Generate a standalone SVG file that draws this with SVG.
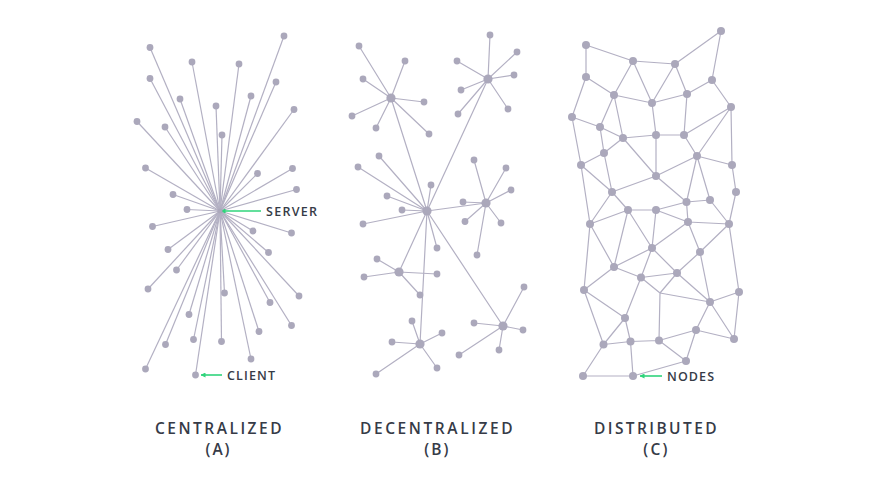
<svg xmlns="http://www.w3.org/2000/svg" width="880" height="486" viewBox="0 0 880 486">
<defs>
<style>
.e{stroke:#b3b0c3;stroke-width:1.2;fill:none}
.n{fill:#aba8bb}
.h{fill:#aba8bb}
.ptr{stroke:#2fd47b;stroke-width:1.6;fill:none}
.lbl{font-family:"Open Sans","Noto Sans","Liberation Sans",sans-serif;font-size:12.5px;font-weight:600;fill:#363b47}
.ttl{font-family:"Open Sans","Noto Sans","Liberation Sans",sans-serif;font-size:15.5px;font-weight:600;fill:#363b47;text-anchor:middle}
</style>
<marker id="ah" viewBox="0 0 10 10" refX="9" refY="5" markerWidth="5" markerHeight="5" orient="auto" markerUnits="userSpaceOnUse">
<path d="M0,0 L10,5 L0,10 Z" fill="#2fd47b"/>
</marker>
</defs>
<rect width="880" height="486" fill="#ffffff"/>

<g id="connectors">
<g id="edges-a">
<line class="e" x1="220" y1="211" x2="284" y2="36"/>
<line class="e" x1="220" y1="211" x2="150" y2="47.5"/>
<line class="e" x1="220" y1="211" x2="192" y2="62"/>
<line class="e" x1="220" y1="211" x2="239" y2="64"/>
<line class="e" x1="220" y1="211" x2="150" y2="78.5"/>
<line class="e" x1="220" y1="211" x2="276" y2="82"/>
<line class="e" x1="220" y1="211" x2="251" y2="96"/>
<line class="e" x1="220" y1="211" x2="180" y2="99"/>
<line class="e" x1="220" y1="211" x2="216" y2="106"/>
<line class="e" x1="220" y1="211" x2="294" y2="109.5"/>
<line class="e" x1="220" y1="211" x2="137" y2="121.5"/>
<line class="e" x1="220" y1="211" x2="165" y2="127"/>
<line class="e" x1="220" y1="211" x2="222" y2="135"/>
<line class="e" x1="220" y1="211" x2="145.5" y2="168"/>
<line class="e" x1="220" y1="211" x2="257.5" y2="173.5"/>
<line class="e" x1="220" y1="211" x2="292.5" y2="168.5"/>
<line class="e" x1="220" y1="211" x2="173" y2="194.5"/>
<line class="e" x1="220" y1="211" x2="296.5" y2="189.5"/>
<line class="e" x1="220" y1="211" x2="187" y2="209.5"/>
<line class="e" x1="220" y1="211" x2="152.5" y2="226.5"/>
<line class="e" x1="220" y1="211" x2="253" y2="231"/>
<line class="e" x1="220" y1="211" x2="291.5" y2="233"/>
<line class="e" x1="220" y1="211" x2="168" y2="249.5"/>
<line class="e" x1="220" y1="211" x2="268.5" y2="252.5"/>
<line class="e" x1="220" y1="211" x2="176.5" y2="270"/>
<line class="e" x1="220" y1="211" x2="148" y2="289"/>
<line class="e" x1="220" y1="211" x2="224.5" y2="293"/>
<line class="e" x1="220" y1="211" x2="299" y2="296"/>
<line class="e" x1="220" y1="211" x2="270" y2="302.5"/>
<line class="e" x1="220" y1="211" x2="189" y2="314.5"/>
<line class="e" x1="220" y1="211" x2="291.5" y2="325.5"/>
<line class="e" x1="220" y1="211" x2="259" y2="331.5"/>
<line class="e" x1="220" y1="211" x2="193.5" y2="339.5"/>
<line class="e" x1="220" y1="211" x2="221.5" y2="341.5"/>
<line class="e" x1="220" y1="211" x2="165.5" y2="344.5"/>
<line class="e" x1="220" y1="211" x2="251" y2="359"/>
<line class="e" x1="220" y1="211" x2="145.5" y2="369"/>
<line class="e" x1="220" y1="211" x2="195.5" y2="375"/>
</g>
<g id="edges-b">
<path class="e" d="M427,211 L391,98 M427,211 L488,79 M427,211 L486,203 M427,211 L399,272 M427,211 L420,344 M427,211 L503,326"/>
<path class="e" d="M427,211 L379,156 M427,211 L358,167 M427,211 L431,185 M427,211 L387,196 M427,211 L402,210 M427,211 L363,224 M427,211 L437,248"/>
<path class="e" d="M391,98 L359,46 M391,98 L405,61 M391,98 L363,79 M391,98 L424,102 M391,98 L352,116 M391,98 L376,128 M391,98 L429,134"/>
<path class="e" d="M488,79 L490,35 M488,79 L517,52 M488,79 L457,61 M488,79 L514,75 M488,79 L461,90 M488,79 L508,109 M488,79 L458,114"/>
<path class="e" d="M486,203 L474,160 M486,203 L506,168 M486,203 L511,190 M486,203 L463,202 M486,203 L465,221.5 M486,203 L501,223 M486,203 L477,255"/>
<path class="e" d="M399,272 L377,259 M399,272 L364,277 M399,272 L437,274 M399,272 L420,295"/>
<path class="e" d="M420,344 L412,321 M420,344 L442,333 M420,344 L392,342 M420,344 L437,368 M420,344 L376,374"/>
<path class="e" d="M503,326 L524,287 M503,326 L474,323 M503,326 L523,330 M503,326 L499,350 M503,326 L459,355"/>
</g>
<g id="edges-c">
<path class="e" d="M586,45 L586,77 M586,45 L633,61 M633,61 L675,64 M675,64 L721,31 M721,31 L712,80 M633,61 L614,95 M633,61 L652,103 M675,64 L652,103 M675,64 L687,94 M712,80 L687,94 M712,80 L731,107 M586,77 L614,95 M586,77 L572,117 M614,95 L652,103 M652,103 L687,94 M614,95 L600,127 M614,95 L623,138 M652,103 L656,135 M687,94 L684,135 M731,107 L684,135 M731,107 L697,156 M731,107 L732,165"/>
<path class="e" d="M572,117 L600,127 M572,117 L581,165 M600,127 L623,138 M600,127 L604,153 M623,138 L656,135 M656,135 L684,135 M623,138 L604,153 M623,138 L656,176 M656,135 L656,176 M684,135 L697,156 M697,156 L732,165 M697,156 L656,176 M604,153 L581,165 M604,153 L612,192 M581,165 L612,192 M581,165 L590,224 M656,176 L612,192 M656,176 L686.5,202 M697,156 L686.5,202 M697,156 L710,200 M732,165 L736,192 M686.5,202 L710,200"/>
<path class="e" d="M612,192 L628,210 M612,192 L590,224 M628,210 L656,210 M656,210 L686.5,202 M736,192 L729,224 M710,200 L729,224 M686.5,202 L688,222 M688,222 L729,224 M656,210 L688,222 M628,210 L590,224 M628,210 L614,267 M628,210 L652,248 M656,210 L652,248 M688,222 L652,248 M688,222 L700,252 M729,224 L700,252 M729,224 L739,292"/>
<path class="e" d="M590,224 L614,267 M590,224 L584,290 M652,248 L614,267 M652,248 L641,277.5 M652,248 L677,273 M700,252 L677,273 M700,252 L710,302 M614,267 L641,277.5 M614,267 L584,290 M641,277.5 L677,273 M641,277.5 L660,293 M677,273 L660,293 M660,293 L710,302 M660,293 L659,340.5 M677,273 L710,302"/>
<path class="e" d="M584,290 L625,318 M584,290 L603.5,344.5 M641,277.5 L625,318 M710,302 L739,292 M710,302 L696,330 M710,302 L734,339 M739,292 L734,339 M696,330 L734,339 M696,330 L659,340.5 M696,330 L686,361 M659,340.5 L686,361 M630.5,341.5 L659,340.5 M603.5,344.5 L630.5,341.5 M625,318 L630.5,341.5 M603.5,344.5 L625,318 M603.5,344.5 L583,376 M583,376 L633,376 M630.5,341.5 L633,376 M633,376 L686,361"/>
</g>
<g id="pointers">
<line class="ptr" x1="261" y1="211" x2="221" y2="211" marker-end="url(#ah)"/>
<line class="ptr" x1="222" y1="375" x2="201" y2="375" marker-end="url(#ah)"/>
<line class="ptr" x1="662" y1="376" x2="640" y2="376" marker-end="url(#ah)"/>
</g>
</g>

<g id="server"><circle class="h" cx="220" cy="211" r="2.5"/></g>
<g id="panel-a-clients">
<g id="a1"><circle class="n" cx="284" cy="36" r="3.4"/></g>
<g id="a2"><circle class="n" cx="150" cy="47.5" r="3.4"/></g>
<g id="a3"><circle class="n" cx="192" cy="62" r="3.4"/></g>
<g id="a4"><circle class="n" cx="239" cy="64" r="3.4"/></g>
<g id="a5"><circle class="n" cx="150" cy="78.5" r="3.4"/></g>
<g id="a6"><circle class="n" cx="276" cy="82" r="3.4"/></g>
<g id="a7"><circle class="n" cx="251" cy="96" r="3.4"/></g>
<g id="a8"><circle class="n" cx="180" cy="99" r="3.4"/></g>
<g id="a9"><circle class="n" cx="216" cy="106" r="3.4"/></g>
<g id="a10"><circle class="n" cx="294" cy="109.5" r="3.4"/></g>
<g id="a11"><circle class="n" cx="137" cy="121.5" r="3.4"/></g>
<g id="a12"><circle class="n" cx="165" cy="127" r="3.4"/></g>
<g id="a13"><circle class="n" cx="222" cy="135" r="3.4"/></g>
<g id="a14"><circle class="n" cx="145.5" cy="168" r="3.4"/></g>
<g id="a15"><circle class="n" cx="257.5" cy="173.5" r="3.4"/></g>
<g id="a16"><circle class="n" cx="292.5" cy="168.5" r="3.4"/></g>
<g id="a17"><circle class="n" cx="173" cy="194.5" r="3.4"/></g>
<g id="a18"><circle class="n" cx="296.5" cy="189.5" r="3.4"/></g>
<g id="a19"><circle class="n" cx="187" cy="209.5" r="3.4"/></g>
<g id="a20"><circle class="n" cx="152.5" cy="226.5" r="3.4"/></g>
<g id="a21"><circle class="n" cx="253" cy="231" r="3.4"/></g>
<g id="a22"><circle class="n" cx="291.5" cy="233" r="3.4"/></g>
<g id="a23"><circle class="n" cx="168" cy="249.5" r="3.4"/></g>
<g id="a24"><circle class="n" cx="268.5" cy="252.5" r="3.4"/></g>
<g id="a25"><circle class="n" cx="176.5" cy="270" r="3.4"/></g>
<g id="a26"><circle class="n" cx="148" cy="289" r="3.4"/></g>
<g id="a27"><circle class="n" cx="224.5" cy="293" r="3.4"/></g>
<g id="a28"><circle class="n" cx="299" cy="296" r="3.4"/></g>
<g id="a29"><circle class="n" cx="270" cy="302.5" r="3.4"/></g>
<g id="a30"><circle class="n" cx="189" cy="314.5" r="3.4"/></g>
<g id="a31"><circle class="n" cx="291.5" cy="325.5" r="3.4"/></g>
<g id="a32"><circle class="n" cx="259" cy="331.5" r="3.4"/></g>
<g id="a33"><circle class="n" cx="193.5" cy="339.5" r="3.4"/></g>
<g id="a34"><circle class="n" cx="221.5" cy="341.5" r="3.4"/></g>
<g id="a35"><circle class="n" cx="165.5" cy="344.5" r="3.4"/></g>
<g id="a36"><circle class="n" cx="251" cy="359" r="3.4"/></g>
<g id="a37"><circle class="n" cx="145.5" cy="369" r="3.4"/></g>
<g id="client"><circle class="n" cx="195.5" cy="375" r="3.4"/></g>
</g>

<g id="panel-b">
<g id="b-hub0"><circle class="h" cx="427" cy="211" r="4.6"/></g>
<g id="b-hub1"><circle class="h" cx="391" cy="98" r="4.6"/></g>
<g id="b-hub2"><circle class="h" cx="488" cy="79" r="4.6"/></g>
<g id="b-hub3"><circle class="h" cx="486" cy="203" r="4.6"/></g>
<g id="b-hub4"><circle class="h" cx="399" cy="272" r="4.6"/></g>
<g id="b-hub5"><circle class="h" cx="420" cy="344" r="4.6"/></g>
<g id="b-hub6"><circle class="h" cx="503" cy="326" r="4.6"/></g>
<g id="b-leaves0"><circle class="n" cx="379" cy="156" r="3.4"/><circle class="n" cx="358" cy="167" r="3.4"/><circle class="n" cx="431" cy="185" r="3.4"/><circle class="n" cx="387" cy="196" r="3.4"/><circle class="n" cx="402" cy="210" r="3.4"/><circle class="n" cx="363" cy="224" r="3.4"/><circle class="n" cx="437" cy="248" r="3.4"/></g>
<g id="b-leaves1"><circle class="n" cx="359" cy="46" r="3.4"/><circle class="n" cx="405" cy="61" r="3.4"/><circle class="n" cx="363" cy="79" r="3.4"/><circle class="n" cx="424" cy="102" r="3.4"/><circle class="n" cx="352" cy="116" r="3.4"/><circle class="n" cx="376" cy="128" r="3.4"/><circle class="n" cx="429" cy="134" r="3.4"/></g>
<g id="b-leaves2"><circle class="n" cx="490" cy="35" r="3.4"/><circle class="n" cx="517" cy="52" r="3.4"/><circle class="n" cx="457" cy="61" r="3.4"/><circle class="n" cx="514" cy="75" r="3.4"/><circle class="n" cx="461" cy="90" r="3.4"/><circle class="n" cx="508" cy="109" r="3.4"/><circle class="n" cx="458" cy="114" r="3.4"/></g>
<g id="b-leaves3"><circle class="n" cx="474" cy="160" r="3.4"/><circle class="n" cx="506" cy="168" r="3.4"/><circle class="n" cx="511" cy="190" r="3.4"/><circle class="n" cx="463" cy="202" r="3.4"/><circle class="n" cx="465" cy="221.5" r="3.4"/><circle class="n" cx="501" cy="223" r="3.4"/><circle class="n" cx="477" cy="255" r="3.4"/></g>
<g id="b-leaves4"><circle class="n" cx="377" cy="259" r="3.4"/><circle class="n" cx="364" cy="277" r="3.4"/><circle class="n" cx="437" cy="274" r="3.4"/><circle class="n" cx="420" cy="295" r="3.4"/></g>
<g id="b-leaves5"><circle class="n" cx="412" cy="321" r="3.4"/><circle class="n" cx="442" cy="333" r="3.4"/><circle class="n" cx="392" cy="342" r="3.4"/><circle class="n" cx="437" cy="368" r="3.4"/><circle class="n" cx="376" cy="374" r="3.4"/></g>
<g id="b-leaves6"><circle class="n" cx="524" cy="287" r="3.4"/><circle class="n" cx="474" cy="323" r="3.4"/><circle class="n" cx="523" cy="330" r="3.4"/><circle class="n" cx="499" cy="350" r="3.4"/><circle class="n" cx="459" cy="355" r="3.4"/></g>
</g>

<g id="panel-c">
<g id="c1"><circle class="n" cx="721" cy="31" r="4"/></g>
<g id="c2"><circle class="n" cx="586" cy="45" r="4"/></g>
<g id="c3"><circle class="n" cx="633" cy="61" r="4"/></g>
<g id="c4"><circle class="n" cx="675" cy="64" r="4"/></g>
<g id="c5"><circle class="n" cx="586" cy="77" r="4"/></g>
<g id="c6"><circle class="n" cx="712" cy="80" r="4"/></g>
<g id="c7"><circle class="n" cx="614" cy="95" r="4"/></g>
<g id="c8"><circle class="n" cx="687" cy="94" r="4"/></g>
<g id="c9"><circle class="n" cx="652" cy="103" r="4"/></g>
<g id="c10"><circle class="n" cx="731" cy="107" r="4"/></g>
<g id="c11"><circle class="n" cx="572" cy="117" r="4"/></g>
<g id="c12"><circle class="n" cx="600" cy="127" r="4"/></g>
<g id="c13"><circle class="n" cx="623" cy="138" r="4"/></g>
<g id="c14"><circle class="n" cx="656" cy="135" r="4"/></g>
<g id="c15"><circle class="n" cx="684" cy="135" r="4"/></g>
<g id="c16"><circle class="n" cx="604" cy="153" r="4"/></g>
<g id="c17"><circle class="n" cx="697" cy="156" r="4"/></g>
<g id="c18"><circle class="n" cx="581" cy="165" r="4"/></g>
<g id="c19"><circle class="n" cx="732" cy="165" r="4"/></g>
<g id="c20"><circle class="n" cx="656" cy="176" r="4"/></g>
<g id="c21"><circle class="n" cx="612" cy="192" r="4"/></g>
<g id="c22"><circle class="n" cx="736" cy="192" r="4"/></g>
<g id="c23"><circle class="n" cx="686.5" cy="202" r="4"/></g>
<g id="c24"><circle class="n" cx="710" cy="200" r="4"/></g>
<g id="c25"><circle class="n" cx="628" cy="210" r="4"/></g>
<g id="c26"><circle class="n" cx="656" cy="210" r="4"/></g>
<g id="c27"><circle class="n" cx="688" cy="222" r="4"/></g>
<g id="c28"><circle class="n" cx="729" cy="224" r="4"/></g>
<g id="c29"><circle class="n" cx="590" cy="224" r="4"/></g>
<g id="c30"><circle class="n" cx="652" cy="248" r="4"/></g>
<g id="c31"><circle class="n" cx="700" cy="252" r="4"/></g>
<g id="c32"><circle class="n" cx="614" cy="267" r="4"/></g>
<g id="c33"><circle class="n" cx="641" cy="277.5" r="4"/></g>
<g id="c34"><circle class="n" cx="677" cy="273" r="4"/></g>
<g id="c35"><circle class="n" cx="584" cy="290" r="4"/></g>
<g id="c36"><circle class="n" cx="739" cy="292" r="4"/></g>
<g id="c37"><circle class="n" cx="710" cy="302" r="4"/></g>
<g id="c38"><circle class="n" cx="625" cy="318" r="4"/></g>
<g id="c39"><circle class="n" cx="696" cy="330" r="4"/></g>
<g id="c40"><circle class="n" cx="734" cy="339" r="4"/></g>
<g id="c41"><circle class="n" cx="603.5" cy="344.5" r="4"/></g>
<g id="c42"><circle class="n" cx="630.5" cy="341.5" r="4"/></g>
<g id="c43"><circle class="n" cx="659" cy="340.5" r="4"/></g>
<g id="c44"><circle class="n" cx="686" cy="361" r="4"/></g>
<g id="c45"><circle class="n" cx="583" cy="376" r="4"/></g>
<g id="c46"><circle class="n" cx="633" cy="376" r="4"/></g>
</g>

<g id="labels">
<text class="lbl" x="266" y="215.5" textLength="51" lengthAdjust="spacing">SERVER</text>
<text class="lbl" x="227" y="380" textLength="48" lengthAdjust="spacing">CLIENT</text>
<text class="lbl" x="667" y="380.5" textLength="47" lengthAdjust="spacing">NODES</text>
<text class="ttl" x="218.3" y="434" textLength="126.5" lengthAdjust="spacing">CENTRALIZED</text>
<text class="ttl" x="217.5" y="454.5" textLength="24" lengthAdjust="spacing">(A)</text>
<text class="ttl" x="436.3" y="434" textLength="152.5" lengthAdjust="spacing">DECENTRALIZED</text>
<text class="ttl" x="436.3" y="454.5" textLength="24" lengthAdjust="spacing">(B)</text>
<text class="ttl" x="655.3" y="434" textLength="122.5" lengthAdjust="spacing">DISTRIBUTED</text>
<text class="ttl" x="655.3" y="454.5" textLength="24" lengthAdjust="spacing">(C)</text>
</g>
</svg>
